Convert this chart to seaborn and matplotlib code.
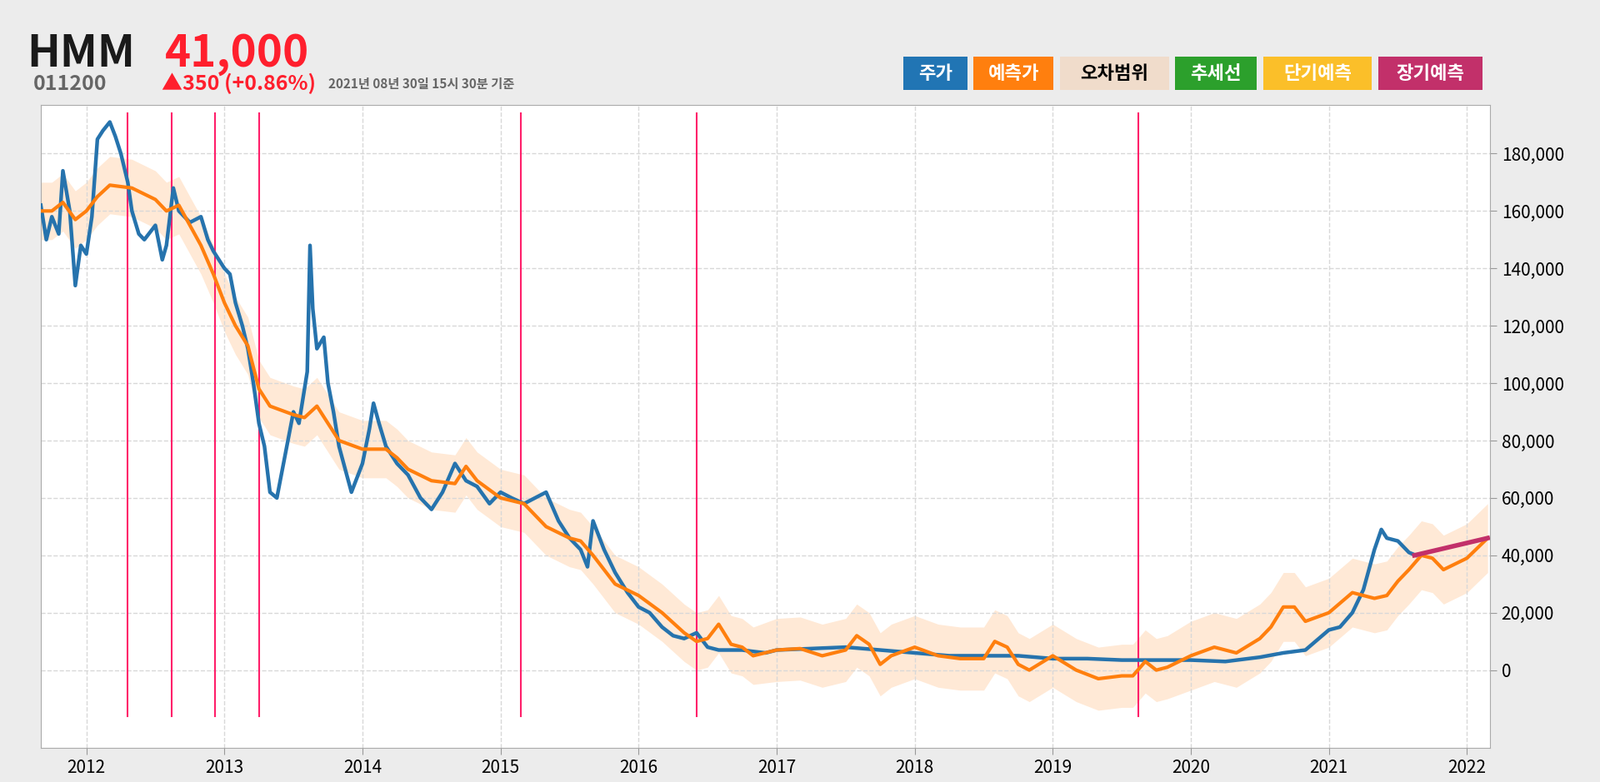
import numpy as np
import pandas as pd
import seaborn as sns
import matplotlib.pyplot as plt
from matplotlib import font_manager

#find a Korean-capable font file and register it
kr_name = 'DejaVu Sans'
for f in font_manager.findSystemFonts():
    if 'CJK' in f and ('KR' in f or 'Cjk' in f or 'CJK' in f):
        try:
            font_manager.fontManager.addfont(f)
            name = font_manager.FontProperties(fname=f).get_name()
            if 'KR' in name or kr_name == 'DejaVu Sans':
                kr_name = name
        except Exception:
            pass
print(kr_name)
plt.rcParams['font.family'] = [kr_name, 'DejaVu Sans']

#price (blue), x in fractional years
price_t = [2011.67, 2011.71, 2011.75, 2011.8, 2011.83, 2011.88, 2011.92, 2011.96, 2012.0, 2012.04, 2012.08, 2012.12,
           2012.17, 2012.21, 2012.25, 2012.3, 2012.33, 2012.38, 2012.42, 2012.5, 2012.55, 2012.58, 2012.63, 2012.67,
           2012.75, 2012.83, 2012.88, 2012.92, 2013.0, 2013.04, 2013.08, 2013.13, 2013.17, 2013.21, 2013.25, 2013.29,
           2013.33, 2013.38, 2013.42, 2013.5, 2013.54, 2013.58, 2013.6, 2013.62, 2013.64, 2013.67, 2013.72, 2013.75,
           2013.79, 2013.83, 2013.92, 2014.0, 2014.05, 2014.08, 2014.12, 2014.17, 2014.25, 2014.33, 2014.42, 2014.5,
           2014.58, 2014.67, 2014.75, 2014.83, 2014.92, 2015.0, 2015.08, 2015.17, 2015.25, 2015.33, 2015.42, 2015.5,
           2015.58, 2015.63, 2015.67, 2015.75, 2015.83, 2015.92, 2016.0, 2016.08, 2016.17, 2016.25, 2016.33, 2016.42,
           2016.5, 2016.58, 2016.67, 2016.75, 2016.83, 2016.92, 2017.0, 2017.25, 2017.5, 2017.75, 2018.0, 2018.25,
           2018.5, 2018.75, 2019.0, 2019.25, 2019.5, 2019.75, 2020.0, 2020.25, 2020.5, 2020.67, 2020.83, 2021.0,
           2021.08, 2021.17, 2021.25, 2021.33, 2021.38, 2021.42, 2021.5, 2021.58, 2021.63]
price = [162000, 150000, 158000, 152000, 174000, 160000, 134000, 148000, 145000, 158000, 185000, 188000,
         191000, 186000, 180000, 170000, 160000, 152000, 150000, 155000, 143000, 148000, 168000, 160000,
         156000, 158000, 150000, 146000, 140000, 138000, 128000, 120000, 112000, 100000, 86000, 78000,
         62000, 60000, 70000, 90000, 86000, 98000, 104000, 148000, 126000, 112000, 116000, 100000,
         90000, 78000, 62000, 72000, 84000, 93000, 86000, 78000, 72000, 68000, 60000, 56000,
         62000, 72000, 66000, 64000, 58000, 62000, 60000, 58000, 60000, 62000, 52000, 46000,
         42000, 36000, 52000, 42000, 34000, 27000, 22000, 20000, 15000, 12000, 11000, 13000,
         8000, 7000, 7000, 7000, 6500, 6000, 7000, 7500, 8000, 7000, 6000, 5000,
         5000, 5000, 4000, 4000, 3500, 3500, 3500, 3000, 4500, 6000, 7000, 14000,
         15000, 20000, 28000, 42000, 49000, 46000, 45000, 41000, 40000]

#prediction (orange)
pred_t = [2011.67, 2011.75, 2011.83, 2011.92, 2012.0, 2012.08, 2012.17, 2012.33, 2012.5, 2012.58, 2012.67, 2012.75,
          2012.83, 2012.92, 2013.0, 2013.08, 2013.17, 2013.25, 2013.33, 2013.5, 2013.58, 2013.67, 2013.75, 2013.83,
          2014.0, 2014.17, 2014.25, 2014.33, 2014.5, 2014.67, 2014.75, 2014.83, 2015.0, 2015.17, 2015.33, 2015.5,
          2015.58, 2015.67, 2015.83, 2016.0, 2016.17, 2016.33, 2016.42, 2016.5, 2016.58, 2016.67, 2016.75, 2016.83,
          2017.0, 2017.17, 2017.33, 2017.5, 2017.58, 2017.67, 2017.75, 2017.83, 2018.0, 2018.17, 2018.33, 2018.5,
          2018.58, 2018.67, 2018.75, 2018.83, 2019.0, 2019.17, 2019.33, 2019.5, 2019.58, 2019.67, 2019.75, 2019.83,
          2020.0, 2020.17, 2020.33, 2020.5, 2020.58, 2020.67, 2020.75, 2020.83, 2021.0, 2021.17, 2021.33, 2021.42,
          2021.5, 2021.58, 2021.67, 2021.75, 2021.83, 2022.0, 2022.15]
pred = [160000, 160000, 163000, 157000, 160000, 165000, 169000, 168000, 164000, 160000, 162000, 155000,
        148000, 138000, 128000, 120000, 113000, 98000, 92000, 89000, 88000, 92000, 86000, 80000,
        77000, 77000, 74000, 70000, 66000, 65000, 71000, 66000, 60000, 58000, 50000, 46000,
        45000, 40000, 30000, 26000, 20000, 13000, 10000, 11000, 16000, 9000, 8000, 5000,
        7000, 7500, 5000, 7000, 12000, 9000, 2000, 5000, 8000, 5000, 4000, 4000,
        10000, 8000, 2000, 0, 5000, 0, -3000, -2000, -2000, 3000, 0, 1000,
        5000, 8000, 6000, 11000, 15000, 22000, 22000, 17000, 20000, 27000, 25000, 26000,
        31000, 35000, 40000, 39000, 35000, 39000, 46000]
band_half = [10000] * 48 + [11000] * 24 + [12000] * 19

#long-term forecast (magenta)
long_t = [2021.62, 2022.15]
long_v = [40000, 46000]

#signal lines
signal_t = [2012.3, 2012.62, 2012.93, 2013.25, 2015.15, 2016.42, 2019.62]

years = list(range(2012, 2023))
yticks = [0, 20000, 40000, 60000, 80000, 100000, 120000, 140000, 160000, 180000]

df_price = pd.DataFrame({'t': price_t, 'v': price})
df_pred = pd.DataFrame({'t': pred_t, 'v': pred, 'h': band_half})
df_long = pd.DataFrame({'t': long_t, 'v': long_v})

fig = plt.figure(figsize=(19.2, 9.39), dpi=100)
fig.patch.set_facecolor('#ececec')
ax = fig.add_axes([0.0255, 0.044, 0.906, 0.822])
ax.set_facecolor('white')

ax.fill_between(df_pred['t'], df_pred['v'] - df_pred['h'], df_pred['v'] + df_pred['h'],
                color='#ffe4cc', alpha=0.8, lw=0, zorder=1)
for s in signal_t:
    ax.plot([s, s], [-16000, 194000], color='#ff1f6a', lw=1.5, zorder=2)
sns.lineplot(data=df_price, x='t', y='v', ax=ax, color='#2673ad', lw=3.2, zorder=3)
sns.lineplot(data=df_pred, x='t', y='v', ax=ax, color='#ff7f0e', lw=3, zorder=4)
sns.lineplot(data=df_long, x='t', y='v', ax=ax, color='#c2306a', lw=4, zorder=5)

ax.set_xlim(2011.67, 2022.17)
ax.set_ylim(-27000, 197000)
ax.set_xticks(years)
ax.set_xticklabels([str(y) for y in years], fontsize=15)
ax.yaxis.tick_right()
ax.set_yticks(yticks)
ax.set_yticklabels([f'{v:,}' for v in yticks], fontsize=15)
ax.set_xlabel('')
ax.set_ylabel('')
ax.grid(True, ls='--', color='#d8d8d8', lw=1)
ax.tick_params(length=6, color='#999999')
for sp in ax.spines.values():
    sp.set_color('#aaaaaa')

#header
fig.text(0.017, 0.915, 'HMM', fontsize=38, fontweight='bold', color='#1a1a1a')
fig.text(0.103, 0.915, '41,000', fontsize=38, fontweight='bold', color='#ff1f2d')
fig.text(0.021, 0.885, '011200', fontsize=18, fontweight='bold', color='#666666')
fig.text(0.101, 0.885, '▲350 (+0.86%)', fontsize=18, fontweight='bold', color='#ff1f2d')
fig.text(0.205, 0.887, '2021년 08년 30일 15시 30분 기준', fontsize=11, fontweight='bold', color='#666666')

legend = [('주가', '#2175b4', 'white'), ('예측가', '#ff7f0e', 'white'), ('오차범위', '#f0dccb', 'black'),
          ('추세선', '#2ca02c', 'white'), ('단기예측', '#fbbf29', 'white'), ('장기예측', '#c2306a', 'white')]
edges = [0.5645, 0.6045, 0.6085, 0.6585, 0.6625, 0.7305, 0.7345, 0.7855, 0.7895, 0.8575, 0.8615, 0.9265]
for i, (lab, bg, fg) in enumerate(legend):
    l, r = edges[2 * i], edges[2 * i + 1]
    fig.patches.append(plt.Rectangle((l, 0.885), r - l, 0.043, transform=fig.transFigure, fc=bg, ec='none'))
    fig.text((l + r) / 2, 0.906, lab, fontsize=16, fontweight='bold', color=fg, ha='center', va='center')

fig.savefig('out.png', dpi=100, facecolor=fig.get_facecolor())
